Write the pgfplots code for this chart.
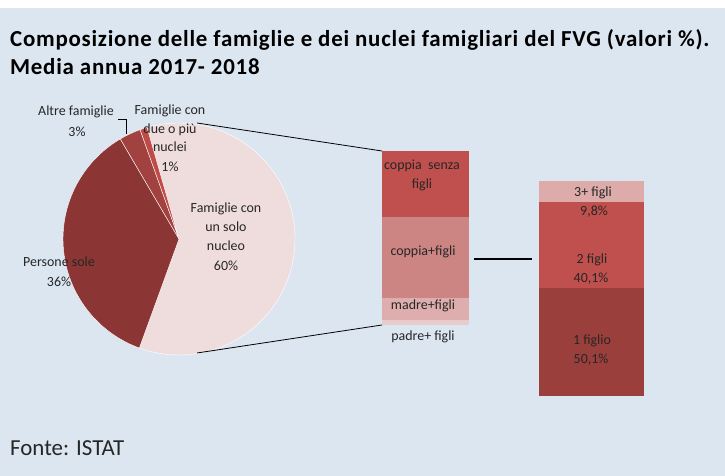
\documentclass[border=0pt]{standalone}
\usepackage{fontspec}
\setmainfont{Carlito}
\newfontfamily\titlefont[LetterSpace=3.3]{Carlito}
\usepackage{pgfplots}
\pgfplotsset{compat=1.18}
\definecolor{bg}{HTML}{DCE6F1}
\definecolor{pieA}{HTML}{EFDDDD}
\definecolor{pieB}{HTML}{8B3634}
\definecolor{pieC}{HTML}{A14240}
\definecolor{pieD}{HTML}{BF4B48}
\definecolor{cs}{HTML}{C0504D}
\definecolor{cf}{HTML}{CD8583}
\definecolor{mf}{HTML}{DDAEAD}
\definecolor{pf}{HTML}{E9CBCB}
\definecolor{fa}{HTML}{9B3F3D}
\definecolor{fb}{HTML}{C0504D}
\definecolor{fc}{HTML}{DDABAA}
\definecolor{txt}{HTML}{262626}
\begin{document}
\begin{tikzpicture}[x=1bp,y=1bp]
\fill[white] (0,0) rectangle (725,476);
\fill[bg] (0,0) rectangle (725,468);
% pie: shares in percent, drawn clockwise from -16 deg
\begin{axis}[at={(0bp,0bp)}, anchor=south west, width=725bp, height=476bp, scale only axis,
  xmin=0, xmax=725, ymin=0, ymax=476, y dir=reverse, hide axis, clip=false]
\addplot[fill=pieA, draw=white, line width=0.4pt, domain=0:60, samples=90]
  ({179+116*sin(3.6*x-16)}, {239-116*cos(3.6*x-16)}) -- (axis cs:179,239) -- cycle;
\addplot[fill=pieB, draw=white, line width=0.4pt, domain=60:96, samples=60]
  ({179+116*sin(3.6*x-16)}, {239-116*cos(3.6*x-16)}) -- (axis cs:179,239) -- cycle;
\addplot[fill=pieC, draw=white, line width=0.4pt, domain=96:99, samples=8]
  ({179+116*sin(3.6*x-16)}, {239-116*cos(3.6*x-16)}) -- (axis cs:179,239) -- cycle;
\addplot[fill=pieD, draw=white, line width=0.4pt, domain=99:100, samples=4]
  ({179+116*sin(3.6*x-16)}, {239-116*cos(3.6*x-16)}) -- (axis cs:179,239) -- cycle;
\end{axis}
% middle stacked bar
\begin{axis}[at={(382bp,151bp)}, anchor=south west, width=87bp, height=174bp, scale only axis,
  xmin=-0.5, xmax=0.5, ymin=0, ymax=100, hide axis, ybar stacked, bar width=87bp, clip=false]
\addplot[fill=pf, draw=none] coordinates {(0,2.9)};
\addplot[fill=mf, draw=none] coordinates {(0,12.6)};
\addplot[fill=cf, draw=none] coordinates {(0,46.6)};
\addplot[fill=cs, draw=none] coordinates {(0,37.9)};
\end{axis}
% right stacked bar
\begin{axis}[at={(539bp,80bp)}, anchor=south west, width=105bp, height=215bp, scale only axis,
  xmin=-0.5, xmax=0.5, ymin=0, ymax=100, hide axis, ybar stacked, bar width=105bp, clip=false]
\addplot[fill=fa, draw=none] coordinates {(0,50.1)};
\addplot[fill=fb, draw=none] coordinates {(0,40.1)};
\addplot[fill=fc, draw=none] coordinates {(0,9.8)};
\end{axis}
% connectors
\draw[black, line width=0.8bp] (197,353) -- (382,325);
\draw[black, line width=0.8bp] (197,123) -- (382,151);
\draw[black, line width=1.6bp] (474,217) -- (532,217);
\draw[black, line width=0.6bp] (118,357) -- (126,357) -- (126,342);
% title
\node[anchor=base west, inner sep=0, font=\titlefont\fontsize{23}{27}\selectfont\bfseries] at (10,429) {Composizione delle famiglie e dei nuclei famigliari del FVG (valori \%).};
\node[anchor=base west, inner sep=0, font=\titlefont\fontsize{23}{27}\selectfont\bfseries] at (10,401) {Media annua 2017- 2018};
\node[anchor=base west, inner sep=0, text=txt, font=\fontsize{23}{27}\selectfont] at (10,20) {Fonte: ISTAT};
% pie labels
\begin{scope}[every node/.style={text=txt, inner sep=0, font=\fontsize{14}{16}\selectfont}]
\node at (76,364) {Altre famiglie};
\node at (77,344) {3\%};
\node at (170,365) {Famiglie con};
\node at (170,346) {due o più};
\node at (170,329) {nuclei};
\node at (170,309) {1\%};
\node at (226,267) {Famiglie con};
\node at (226,249) {un solo};
\node at (226,230) {nucleo};
\node at (226,210) {60\%};
\node at (59,214) {Persone sole};
\node at (59,194) {36\%};
\node at (422,310) {coppia\ \ senza};
\node at (422,291) {figli};
\node at (423,224) {coppia+figli};
\node at (423,170) {madre+figli};
\node at (423,139) {padre+ figli};
\node at (593,283) {3+ figli};
\node at (594,264) {9,8\%};
\node at (592,216) {2 figli};
\node at (591,197) {40,1\%};
\node at (592,135) {1 figlio};
\node at (591,116) {50,1\%};
\end{scope}
\end{tikzpicture}
\end{document}
